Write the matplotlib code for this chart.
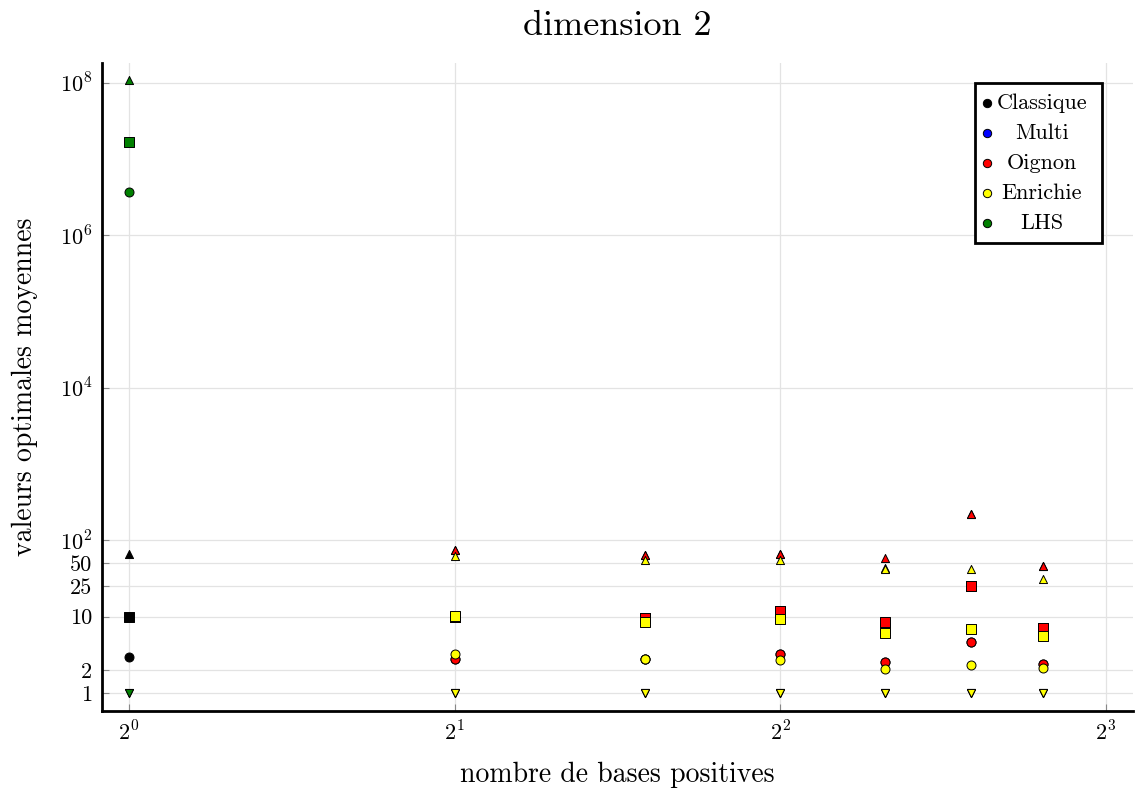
import matplotlib
matplotlib.use("Agg")
import matplotlib.pyplot as plt
from matplotlib.patches import Rectangle

plt.rcParams['font.family'] = ['cmr10', 'DejaVu Serif']
plt.rcParams['mathtext.fontset'] = 'cm'
plt.rcParams['axes.formatter.use_mathtext'] = True

# nombre de bases positives
x_classique = [1]
x_autres = [2, 3, 4, 5, 6, 7]

# each series: max (triangle up), square, circle, min (triangle down)
classique_max = [66]
classique_sq = [10]
classique_moy = [3.0]
classique_min = [1]

multi_max = [74.8, 64.5, 66, 43.5, 222, 46]
multi_sq = [9.8, 9.6, 11.9, 7.2, 25.5, 7.1]
multi_moy = [2.79, 2.79, 3.24, 2.57, 4.66, 2.4]
multi_min = [1, 1, 1, 1, 1, 1]

oignon_max = [74.8, 64.5, 66, 59.3, 222, 46]
oignon_sq = [9.8, 9.6, 11.9, 8.5, 25.5, 7.1]
oignon_moy = [2.79, 2.79, 3.24, 2.57, 4.66, 2.4]
oignon_min = [1, 1, 1, 1, 1, 1]

enrichie_max = [62.5, 55.3, 55, 42.6, 42, 31.2]
enrichie_sq = [10.3, 8.5, 9.3, 6.2, 6.9, 5.6]
enrichie_moy = [3.24, 2.79, 2.7, 2.06, 2.33, 2.13]
enrichie_min = [1, 1, 1, 1, 1, 1]

x_lhs = [1]
lhs_max = [1.08e8]
lhs_sq = [1.67e7]
lhs_moy = [3.68e6]
lhs_min = [1]

series = [
    ("Classique", "black", x_classique, classique_max, classique_sq, classique_moy, classique_min),
    ("Multi", "blue", x_autres, multi_max, multi_sq, multi_moy, multi_min),
    ("Oignon", "red", x_autres, oignon_max, oignon_sq, oignon_moy, oignon_min),
    ("Enrichie", "yellow", x_autres, enrichie_max, enrichie_sq, enrichie_moy, enrichie_min),
    ("LHS", "green", x_lhs, lhs_max, lhs_sq, lhs_moy, lhs_min),
]

fig = plt.figure(figsize=(11.36, 7.92), dpi=100)
ax = fig.add_axes([0.0898, 0.1023, 0.9076, 0.8182])

for name, col, xs, ymax, ysq, ymoy, ymin in series:
    kw = dict(color=col, edgecolors='black', linewidths=0.7, zorder=3)
    ax.scatter(xs, ymax, marker='^', s=34, **kw)
    ax.scatter(xs, ysq, marker='s', s=42, **kw)
    ax.scatter(xs, ymoy, marker='o', s=42, **kw)
    ax.scatter(xs, ymin, marker='v', s=34, **kw)

ax.set_xscale('log', base=2)
ax.set_yscale('log')
ax.set_xlim(2 ** -0.083, 2 ** 3.084)
ax.set_ylim(10 ** -0.236, 10 ** 8.257)

ax.set_xticks([1, 2, 4, 8])
ax.set_xticklabels([r'$2^{0}$', r'$2^{1}$', r'$2^{2}$', r'$2^{3}$'])
yt = [1, 2, 10, 25, 50, 100, 1e4, 1e6, 1e8]
ax.set_yticks(yt)
ax.set_yticklabels(['1', '2', '10', '25', '50', r'$10^{2}$', r'$10^{4}$', r'$10^{6}$', r'$10^{8}$'])
ax.minorticks_off()

ax.grid(True, color='#e3e3e3', linewidth=0.9, zorder=0)
ax.set_axisbelow(True)
ax.tick_params(direction='in', length=5, color='#888888', labelsize=16, pad=7)

for s in ['top', 'right']:
    ax.spines[s].set_visible(False)
for s in ['left', 'bottom']:
    ax.spines[s].set_linewidth(2)

ax.set_title("dimension 2", fontsize=26, pad=20)
ax.set_xlabel("nombre de bases positives", fontsize=20, labelpad=12)
ax.set_ylabel("valeurs optimales moyennes", fontsize=20, labelpad=16)

# legend box, centred labels
ax.add_patch(Rectangle((0.8468, 0.7222), 0.9699 - 0.8468, 0.9691 - 0.7222,
                       transform=ax.transAxes, facecolor='white', edgecolor='black',
                       linewidth=2, zorder=5, clip_on=False))
row_y = [0.9383, 0.8920, 0.8457, 0.7994, 0.7531]
for (name, col, *_), yy in zip(series, row_y):
    ax.scatter([0.8584], [yy], transform=ax.transAxes, marker='o', s=36,
               color=col, edgecolors='black', linewidths=0.7, zorder=6, clip_on=False)
    ax.text(0.9117, yy, name, transform=ax.transAxes, ha='center', va='center',
            fontsize=16, zorder=6)

fig.savefig("out.png", dpi=100)
